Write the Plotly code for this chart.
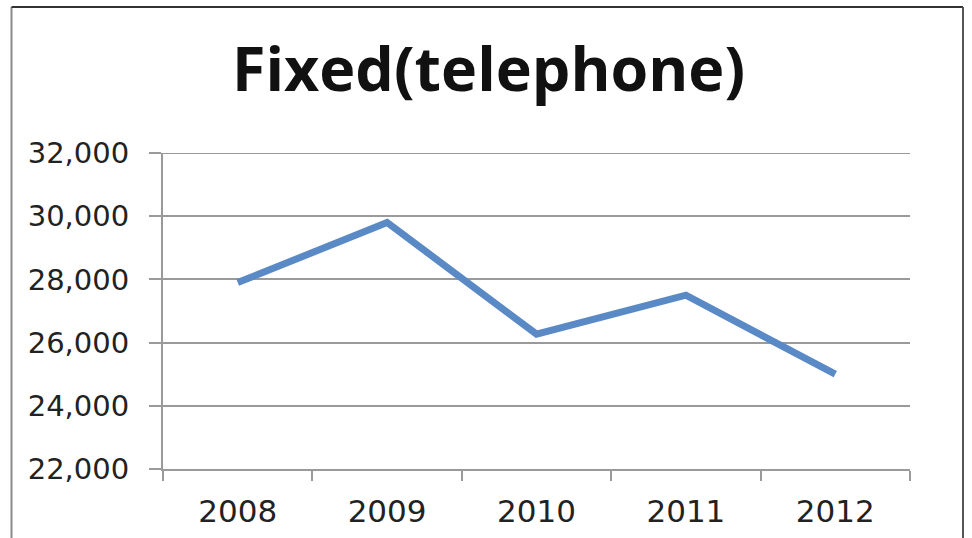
import plotly.graph_objects as go

years = ["2008", "2009", "2010", "2011", "2012"]
values = [27900, 29800, 26270, 27500, 25000]
y_ticks = [22000, 24000, 26000, 28000, 30000, 32000]
title_text = "Fixed(telephone)"

W, H = 972, 538
L, R, T, B = 163, 62, 153, 69
pw, ph = W - L - R, H - T - B

def px_x(p):
    return (p - L) / pw

def px_y(p):
    return (H - B - p) / ph

fig = go.Figure()
fig.add_trace(go.Scatter(
    x=years, y=values, mode="lines",
    line=dict(color="#5A8AC6", width=7),
    hoverinfo="skip", showlegend=False,
))

grid = "#9a9a9a"
fig.update_layout(
    width=W, height=H,
    margin=dict(l=L, r=R, t=T, b=B, pad=0, autoexpand=False),
    paper_bgcolor="white", plot_bgcolor="white",
    title=dict(
        text="<b>" + title_text + "</b>",
        font=dict(family="Open Sans", size=61, color="#111111"),
        x=488.5 / W, xanchor="center", xref="container",
        y=1 - 70 / H, yanchor="middle", yref="container",
    ),
    xaxis=dict(
        type="category", range=[-0.5, 4.5], automargin=False,
        showgrid=False, showline=True, linecolor=grid, linewidth=2,
        ticks="outside", tickson="boundaries", ticklen=10, tickcolor=grid, tickwidth=2,
        tickfont=dict(family="DejaVu Sans", size=31, color="#222222"),
        ticklabelstandoff=14,
    ),
    yaxis=dict(
        range=[22000, 32000], tickvals=y_ticks, tickformat=",", automargin=False,
        showgrid=True, gridcolor=grid, gridwidth=2,
        showline=True, linecolor=grid, linewidth=2,
        ticks="outside", ticklen=12, tickcolor=grid, tickwidth=2,
        tickfont=dict(family="DejaVu Sans", size=29, color="#222222"),
        ticklabelstandoff=14, zeroline=False,
    ),
    shapes=[
        dict(type="line", xref="paper", yref="y", x0=0, x1=1,
             y0=y_ticks[-1], y1=y_ticks[-1], line=dict(color=grid, width=2), layer="below"),
        dict(type="line", xref="paper", yref="paper", x0=px_x(11.5), x1=px_x(11.5),
             y0=px_y(7), y1=px_y(560), line=dict(color="#8a8a8a", width=2)),
        dict(type="line", xref="paper", yref="paper", x0=px_x(11.5), x1=px_x(963),
             y0=px_y(7), y1=px_y(7), line=dict(color="#333333", width=2)),
        dict(type="line", xref="paper", yref="paper", x0=px_x(963), x1=px_x(963),
             y0=px_y(7), y1=px_y(560), line=dict(color="#555555", width=2)),
    ],
)

fig.write_html("out.html")
